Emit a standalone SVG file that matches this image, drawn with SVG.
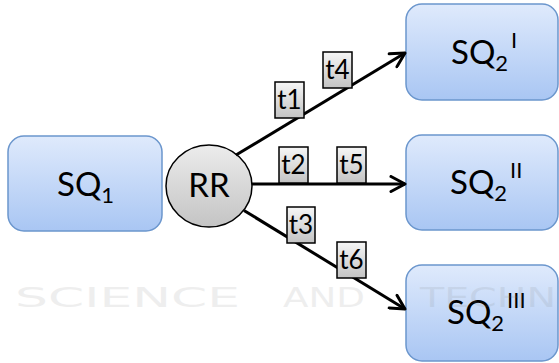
<svg xmlns="http://www.w3.org/2000/svg" width="559" height="363" viewBox="0 0 559 363">
  <defs>
    <linearGradient id="boxFill" x1="0" y1="0" x2="0" y2="1">
      <stop offset="0" stop-color="#dfeafc"/>
      <stop offset="1" stop-color="#a9c6f3"/>
    </linearGradient>
    <linearGradient id="rrFill" x1="0" y1="0" x2="0" y2="1">
      <stop offset="0" stop-color="#ececec"/>
      <stop offset="1" stop-color="#c4c4c4"/>
    </linearGradient>
    <linearGradient id="tagFill" x1="0" y1="0" x2="0" y2="1">
      <stop offset="0" stop-color="#f6f6f6"/>
      <stop offset="1" stop-color="#c3c3c3"/>
    </linearGradient>
    <marker id="head" viewBox="0 0 18 18" refX="16" refY="9" markerWidth="18" markerHeight="18" markerUnits="userSpaceOnUse" orient="auto">
      <path d="M2,1.5 L16,9 L2,16.5" fill="none" stroke="#000" stroke-width="3" stroke-linecap="round" stroke-linejoin="round"/>
    </marker>
  </defs>
  <style>
    .box { fill: url(#boxFill); stroke: #6b96cd; stroke-width: 1.5; }
    .rr { fill: url(#rrFill); stroke: #000; stroke-width: 1.5; }
    .tag { fill: url(#tagFill); stroke: #000; stroke-width: 1.5; }
    .edge { fill: none; stroke: #000; stroke-width: 3; marker-end: url(#head); }
    .lbl { font-family: Lato, "Open Sans", "Liberation Sans", sans-serif; fill: #000; }
    .big { font-size: 33px; }
    .sub { font-size: 22px; }
    .tt { font-size: 26px; text-anchor: middle; }
    .wm { font-family: "DejaVu Sans", sans-serif; font-size: 26px; fill: #777; opacity: 0.12; }
  </style>

  <rect width="559" height="363" fill="#fff"/>

  <!-- source queue -->
  <g id="sq1">
    <rect class="box" x="8" y="136" width="154" height="95" rx="16"/>
    <text class="lbl big" x="57" y="196">SQ<tspan class="sub" dy="7">1</tspan></text>
  </g>

  <!-- round robin dispatcher -->
  <g id="rr">
    <ellipse class="rr" cx="209" cy="186" rx="43" ry="41"/>
    <text class="lbl big" x="209" y="197" text-anchor="middle">RR</text>
  </g>

  <!-- destination queues -->
  <g id="sq2-i">
    <rect class="box" x="406" y="4" width="152" height="96" rx="16"/>
    <text class="lbl big" x="451" y="64">SQ<tspan class="sub" dy="7">2</tspan><tspan class="sub" dx="3" dy="-23">I</tspan></text>
  </g>
  <g id="sq2-ii">
    <rect class="box" x="406" y="135" width="152" height="95" rx="16"/>
    <text class="lbl big" x="450" y="194">SQ<tspan class="sub" dy="7">2</tspan><tspan class="sub" dx="3" dy="-23">II</tspan></text>
  </g>
  <g id="sq2-iii">
    <rect class="box" x="406" y="265" width="152" height="96" rx="16"/>
    <text class="lbl big" x="447" y="324">SQ<tspan class="sub" dy="7">2</tspan><tspan class="sub" dx="3" dy="-23">III</tspan></text>
  </g>

  <!-- connectors -->
  <g id="connectors">
    <line class="edge" x1="236" y1="155" x2="405" y2="53"/>
    <line class="edge" x1="252" y1="184" x2="405" y2="184"/>
    <line class="edge" x1="244" y1="210.5" x2="405" y2="309"/>
  </g>

  <!-- token labels on the connectors -->
  <g id="tags">
    <g id="t1"><rect class="tag" x="275" y="82" width="29" height="36"/><text class="lbl tt" x="289.5" y="109">t1</text></g>
    <g id="t4"><rect class="tag" x="323" y="52" width="29" height="36"/><text class="lbl tt" x="337.5" y="79">t4</text></g>
    <g id="t2"><rect class="tag" x="279" y="147" width="29" height="36"/><text class="lbl tt" x="293.5" y="174">t2</text></g>
    <g id="t5"><rect class="tag" x="337" y="147" width="29" height="36"/><text class="lbl tt" x="351.5" y="174">t5</text></g>
    <g id="t3"><rect class="tag" x="287" y="207" width="28" height="36"/><text class="lbl tt" x="301" y="234">t3</text></g>
    <g id="t6"><rect class="tag" x="337" y="242" width="29" height="36"/><text class="lbl tt" x="351.5" y="269">t6</text></g>
  </g>

  <!-- faint publisher watermark -->
  <g id="watermark">
    <text class="wm" x="15" y="307" textLength="225" lengthAdjust="spacingAndGlyphs">SCIENCE</text>
    <text class="wm" x="283" y="307" textLength="82" lengthAdjust="spacingAndGlyphs">AND</text>
    <text class="wm" x="420" y="307" textLength="136" lengthAdjust="spacingAndGlyphs">TECHN</text>
  </g>
</svg>
